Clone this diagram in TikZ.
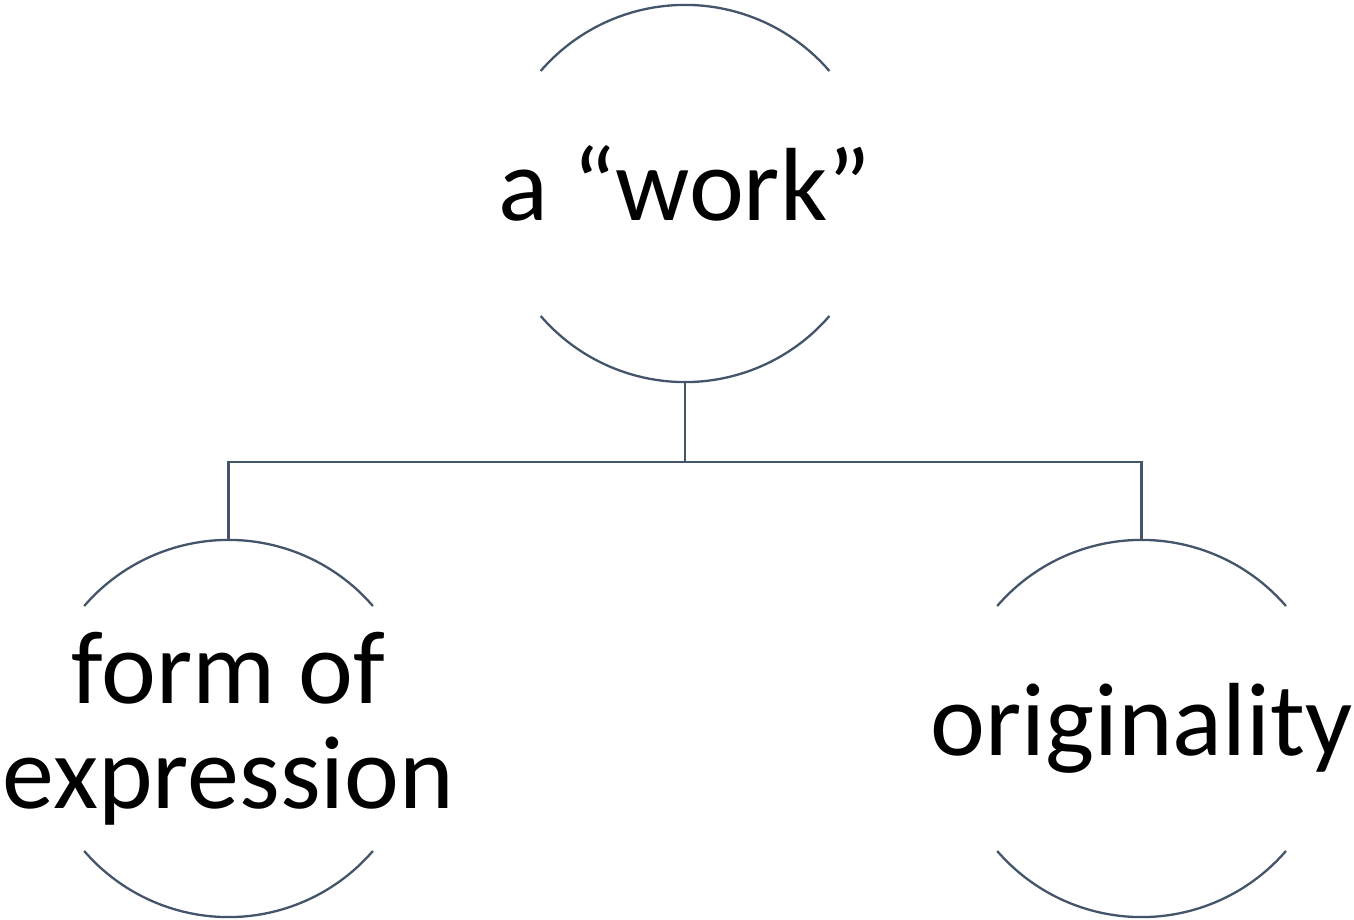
\documentclass[tikz,border=0pt]{standalone}
\usepackage{fontspec}
\setmainfont{Carlito}
\usepackage{tikz}
\definecolor{slateline}{HTML}{44546A}

\begin{document}
\begin{tikzpicture}[x=1pt,y=1pt, level distance=535pt, sibling distance=913pt,
    bubble/.style={minimum width=289pt, minimum height=377pt, inner sep=0pt, align=center, font=\fontsize{104}{105}\selectfont},
    oneline/.style={text height=80pt, text depth=26pt},
    arcline/.style={draw=slateline, line width=2.3pt},
    edge from parent/.style={arcline},
    edge from parent path={(\tikzparentnode.south) -- ++(0,-80) -| (\tikzchildnode.north)}]
  \useasboundingbox (0,0) rectangle (1354,919);
  \node[bubble, oneline] (work) at (685,725.5) {a “work”}
    child {node[bubble] (form) {form of\\expression}}
    child {node[bubble, oneline] (orig) {originality}};
  \foreach \n in {work,form,orig} {
    \draw[arcline] ([shift={(-144.3,122.5)}]\n.center) arc[start angle=139.2, end angle=40.8, radius=190.7pt];
    \draw[arcline] ([shift={(-144.3,-122.5)}]\n.center) arc[start angle=220.8, end angle=319.2, radius=190.7pt];
  }
\end{tikzpicture}
\end{document}
